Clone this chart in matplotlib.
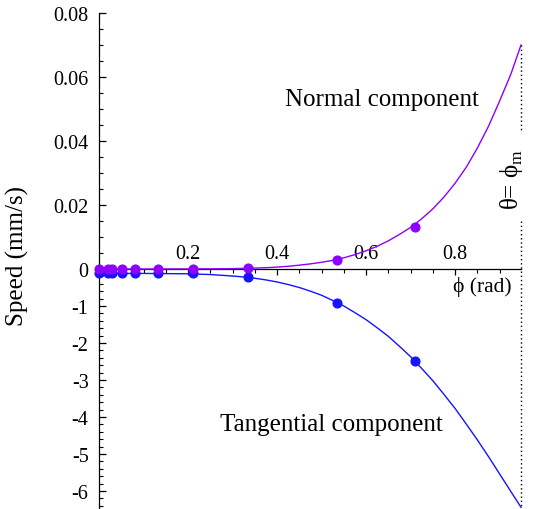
import numpy as np
import matplotlib
matplotlib.use("Agg")
import matplotlib.pyplot as plt
from matplotlib.ticker import FixedLocator

plt.rcParams["font.family"] = ["Liberation Serif", "DejaVu Serif"]
plt.rcParams["mathtext.fontset"] = "custom"
plt.rcParams["mathtext.rm"] = "Liberation Serif"

# ---------------------------
# data
# ---------------------------
phi_m = 0.948

# smooth curves
phi_curve = [0.0, 0.05, 0.1, 0.15, 0.2, 0.25, 0.275, 0.3, 0.325, 0.35, 0.375, 0.4,
             0.425, 0.45, 0.475, 0.5, 0.525, 0.55, 0.575, 0.6, 0.625, 0.65, 0.675,
             0.7, 0.725, 0.75, 0.775, 0.8, 0.825, 0.85, 0.875, 0.9, 0.925, 0.948]
normal_curve = [0.0, 0.0, 0.0, 0.00001, 0.00002, 0.00005, 0.00008, 0.00012, 0.0002,
                0.0003, 0.0004, 0.0006, 0.00085, 0.0012, 0.0016, 0.0021, 0.0027,
                0.0035, 0.0045, 0.0057, 0.0071, 0.0088, 0.0108, 0.0130, 0.0157,
                0.0188, 0.0225, 0.0268, 0.0318, 0.0378, 0.0446, 0.0525, 0.0608, 0.070]
tangential_curve = [-0.12, -0.12, -0.12, -0.125, -0.13, -0.15, -0.17, -0.19, -0.215,
                    -0.25, -0.295, -0.35, -0.42, -0.50, -0.60, -0.71, -0.85, -1.00,
                    -1.18, -1.37, -1.59, -1.82, -2.09, -2.37, -2.69, -3.02, -3.39,
                    -3.77, -4.19, -4.62, -5.07, -5.54, -6.01, -6.44]

# computed points
phi_pts = [0.0, 0.02, 0.03, 0.052, 0.08, 0.133, 0.212, 0.334, 0.535, 0.709]
normal_pts = [0.0, 0.0, 0.0, 0.0, 0.0, 0.0, 0.00002, 0.0003, 0.0028, 0.0132]
tangential_pts = [-0.12, -0.12, -0.12, -0.12, -0.12, -0.12, -0.12, -0.22, -0.93, -2.48]

upper_ticks = [0.02, 0.04, 0.06, 0.08]
lower_ticks = [-1, -2, -3, -4, -5, -6]
x_ticks = [0.2, 0.4, 0.6, 0.8]

# the two components share one axis: normal (upper half) is stretched
NORM_SCALE = (64 / 37) / 0.02

purple = "#8f00ff"
blue = "#1414ff"

# ---------------------------
# plot
# ---------------------------
fig = plt.figure(figsize=(5.34, 5.10), dpi=100)
ax = fig.add_axes([99 / 534, 0, 422 / 534, 496 / 510])

ax.set_xlim(0, phi_m)
ax.set_ylim(-240 / 37, 0.08 * NORM_SCALE)

n_curve = np.array(normal_curve) * NORM_SCALE
n_pts = np.array(normal_pts) * NORM_SCALE

ax.plot(phi_curve, tangential_curve, color=blue, lw=1.0, clip_on=False, zorder=3)
ax.plot(phi_pts, tangential_pts, "o", color=blue, ms=6.3, clip_on=False, zorder=4)
ax.plot(phi_curve, n_curve, color=purple, lw=1.0, clip_on=False, zorder=5)
ax.plot(phi_pts, n_pts, "o", color=purple, ms=6.3, clip_on=False, zorder=6)

# dotted line at theta = phi_m, with a gap for the label
ax.plot([phi_m, phi_m], [n_curve[-1], 3.73], color="black", lw=1.0,
        ls=(0, (1, 2)), clip_on=False)
ax.plot([phi_m, phi_m], [1.30, -240 / 37], color="black", lw=1.0,
        ls=(0, (1, 2)), clip_on=False)

# spines
for s in ["top", "right"]:
    ax.spines[s].set_visible(False)
ax.spines["bottom"].set_position(("data", 0))
ax.spines["left"].set_linewidth(0.9)
ax.spines["bottom"].set_linewidth(0.9)

# y ticks
y_major = [t * NORM_SCALE for t in upper_ticks] + [0] + lower_ticks
y_labels = [f"{t:.2f}" for t in upper_ticks] + ["0"] + [f"{t}" for t in lower_ticks]
ax.set_yticks(y_major)
ax.set_yticklabels(y_labels, fontsize=14.5)
y_minor = [v * 0.005 * NORM_SCALE for v in range(1, 16) if v % 4 != 0]
y_minor += [-(v * 0.2) for v in range(1, 33) if v % 5 != 0]
ax.yaxis.set_minor_locator(FixedLocator(y_minor))
ax.tick_params(axis="y", which="major", direction="in", length=5, width=0.9, pad=7.5)
ax.tick_params(axis="y", which="minor", direction="in", length=3, width=0.8)

# x ticks: marks below the axis, labels above it
ax.set_xticks(x_ticks)
ax.set_xticklabels([])
ax.xaxis.set_minor_locator(FixedLocator([v * 0.05 for v in range(1, 19) if v % 4 != 0]))
ax.tick_params(axis="x", which="major", direction="out", length=4, width=0.9)
ax.tick_params(axis="x", which="minor", direction="out", length=3, width=0.8)
for t in x_ticks:
    ax.annotate(f"{t:.1f}", (t, 0), xytext=(0, 11), textcoords="offset points",
                ha="center", va="center", fontsize=14.5)

# texts
ax.annotate("\u03d5 (rad)", (phi_m, 0), xytext=(-7, -12), textcoords="offset points",
            ha="right", va="center", fontsize=15.5)
ax.annotate("\u03b8= \u03d5$_{\\mathrm{m}}$", (phi_m, 2.45), xytext=(-6.5, 0),
            textcoords="offset points", ha="center", va="center", rotation=90,
            fontsize=18)
fig.text(382 / 534, 1 - 100 / 510, "Normal component", ha="center", va="center",
         fontsize=18)
fig.text(331 / 534, 1 - 425 / 510, "Tangential component", ha="center", va="center",
         fontsize=18)
fig.text(17 / 534, 1 - 256 / 510, "Speed (mm/s)", ha="center", va="center",
         rotation=90, fontsize=18)

fig.savefig("out.png", dpi=100)
